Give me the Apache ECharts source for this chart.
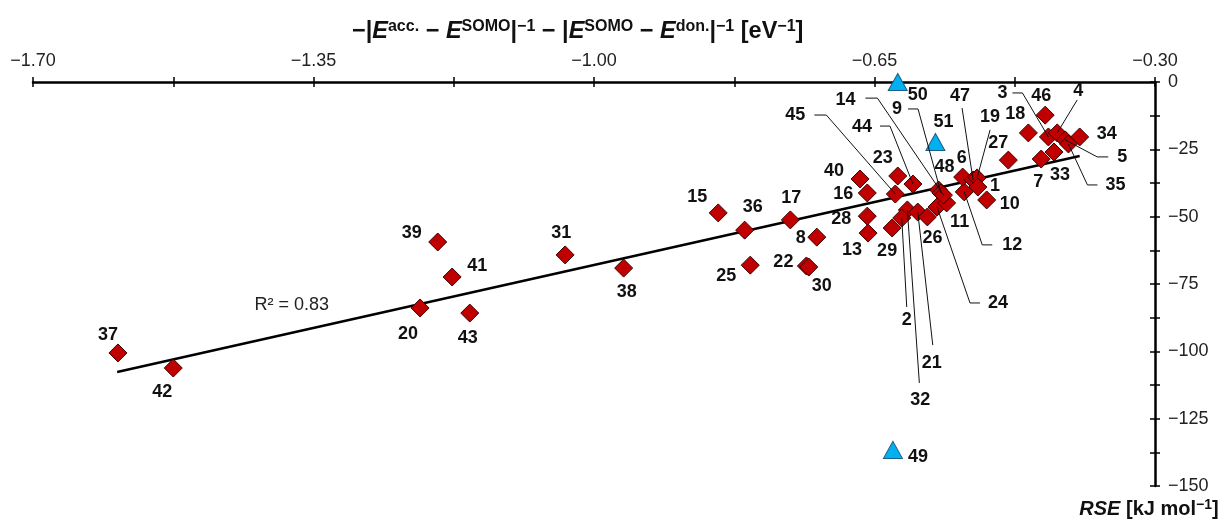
<!DOCTYPE html>
<html><head><meta charset="utf-8">
<script src="https://cdn.jsdelivr.net/npm/echarts@6/dist/echarts.min.js"></script>
<style>html,body{margin:0;padding:0;background:#fff}#c{width:1223px;height:519px}</style>
</head><body><div id="c"></div>
<script>
// ---- data ----
const ids   = ['37','42','39','41','20','43','31','38','15','36','25','17','8','22','30','40','16','28','13','29','45','23','44','32','2','21','26','24','11','48','9','14','12','6','47','19','1','10','27','7','33','18','46','3','4','5','35','34'];
const xVals = [-1.594,-1.525,-1.195,-1.177,-1.217,-1.155,-1.036,-0.963,-0.845,-0.812,-0.805,-0.755,-0.722,-0.735,-0.732,-0.668,-0.659,-0.659,-0.658,-0.628,-0.624,-0.621,-0.602,-0.609,-0.616,-0.596,-0.584,-0.572,-0.560,-0.570,-0.567,-0.564,-0.538,-0.540,-0.527,-0.522,-0.521,-0.510,-0.483,-0.442,-0.426,-0.458,-0.437,-0.433,-0.422,-0.412,-0.408,-0.394];
const yVals = [-100.6,-106.2,-59.4,-72.4,-83.9,-85.8,-64.2,-69.1,-48.6,-55.0,-68.0,-51.2,-57.6,-68.3,-68.7,-36.0,-41.2,-49.8,-56.1,-54.2,-41.6,-34.9,-37.9,-47.5,-50.5,-48.3,-50.1,-46.4,-44.9,-40.1,-41.2,-42.0,-40.8,-35.3,-36.4,-35.6,-39.0,-43.8,-29.0,-28.6,-26.0,-18.9,-12.3,-20.4,-18.9,-21.5,-23.0,-20.4];
const refIds = ['50','51','49'];
const refX   = [-0.621,-0.574,-0.627];
const refY   = [0,-22.3,-136.6];
const trendX = [-1.595,-0.394];
const trendY = [-107.7,-27.5];
const r2Text = 'R² = 0.83';
const xTickLabels = [-1.70,-1.35,-1.00,-0.65,-0.30];
const xTicks = [-1.70,-1.525,-1.35,-1.175,-1.00,-0.825,-0.65,-0.475,-0.30];
const yTickLabels = [0,-25,-50,-75,-100,-125,-150];
const yTicks = [0,-12.5,-25,-37.5,-50,-62.5,-75,-87.5,-100,-112.5,-125,-137.5,-150];

// ---- label placement (pixel offsets from the mark) ----
const labelOff = {
 '37':[-10,-18],'42':[-11,24],'39':[-26,-9],'41':[25,-11],'20':[-12,26],'43':[-2,25],
 '31':[-4,-22],'38':[3,24],'15':[-21,-16],'36':[8,-23],'25':[-24,11],'17':[1,-22],
 '8':[-16,1],'22':[-23,-4],'30':[13,19],'40':[-26,-8],'16':[-24,1],'28':[-26,3],
 '13':[-16,17],'29':[-5,23],'23':[-15,-18],'26':[5,21],'11':[13,19],'6':[-1,-19],
 '1':[17,-1],'10':[23,4],'27':[-10,-17],'7':[-3,23],'33':[6,23],'18':[-13,-19],
 '46':[-4,-19],'34':[27,-3],'48':[6,-23],'49':[25,7],'50':[20,13],'51':[8,-20]
};
const leaders = {
 '45':{t:[-100,-79],l:[[-81,-79],[-69,-79]]},
 '14':{t:[-98,-95],l:[[-78,-97],[-66,-97]]},
 '44':{t:[-51,-57],l:[[-33,-58],[-23,-58]]},
 '9': {t:[-44,-84],l:[[-33,-84],[-23,-84]]},
 '47':{t:[-13,-84],l:[[-11,-72]]},
 '19':{t:[13,-61],l:[[13,-48]]},
 '12':{t:[48,53],l:[[28,53],[18,53]]},
 '24':{t:[61,96],l:[[43,96],[33,96]]},
 '2': {t:[5,102],l:[[5,89]]},
 '21':{t:[14,151],l:[[15,133]]},
 '32':{t:[13,190],l:[[12,173]]},
 '3': {t:[-46,-44],l:[[-36,-44],[-26,-44]]},
 '4': {t:[21,-42],l:[[20,-33]]},
 '5': {t:[57,17],l:[[43,17],[32,17]]},
 '35':{t:[47,41],l:[[29,41],[19,41]]}
};

const FONT = '"Liberation Sans", Arial, sans-serif';
const fmtX = v => (v < 0 ? '\u2212' : '') + Math.abs(v).toFixed(2);
const fmtY = v => (v < 0 ? '\u2212' : '') + Math.abs(v);

const chart = echarts.init(document.getElementById('c'), null, {renderer:'canvas'});
const mainPts = ids.map((id,i)=>[xVals[i], yVals[i], id]);
const refPts  = refIds.map((id,i)=>[refX[i], refY[i], id]);

const xBase = {type:'value', position:'top', min:-1.70, max:-0.30, splitLine:{show:false}};
const yBase = {type:'value', position:'right', min:-150, max:0, splitLine:{show:false}};

chart.setOption({
  animation:false,
  textStyle:{fontFamily:FONT},
  title:{
    left:352, top:19, padding:0,
    text:'{n|\u2212|}{i|E}{s|acc.}{n| \u2212 }{i|E}{s|SOMO}{n||}{s|\u22121}{n| \u2212 |}{i|E}{s|SOMO}{n| \u2212 }{i|E}{s|don.}{n||}{s|\u22121}{n| [eV}{s|\u22121}{n|]}',
    textStyle:{rich:{
      n:{fontSize:23.5,fontWeight:'bold',color:'#111',fontFamily:FONT,lineHeight:26},
      i:{fontSize:23.5,fontWeight:'bold',fontStyle:'italic',color:'#111',fontFamily:FONT,lineHeight:26},
      s:{fontSize:16,fontWeight:'bold',color:'#111',fontFamily:FONT,verticalAlign:'top',lineHeight:26}
    }}
  },
  grid:{left:33, right:68, top:82, bottom:33, containLabel:false, outerBoundsMode:'none'},
  xAxis:[
    Object.assign({}, xBase, {
      axisLine:{show:true, onZero:false, lineStyle:{color:'#000', width:2.5}},
      axisTick:{show:true, customValues:xTicks, length:5, lineStyle:{color:'#000', width:1.5}},
      axisLabel:{show:true, customValues:xTickLabels, formatter:fmtX, fontSize:18, color:'#222', margin:12, fontFamily:FONT}
    }),
    Object.assign({}, xBase, {
      axisLine:{show:false, onZero:false},
      axisTick:{show:true, inside:true, customValues:xTicks, length:5, lineStyle:{color:'#000', width:1.5}},
      axisLabel:{show:false}
    })
  ],
  yAxis:[
    Object.assign({}, yBase, {
      axisLine:{show:true, onZero:false, lineStyle:{color:'#000', width:2.5}},
      axisTick:{show:true, customValues:yTicks, length:5, lineStyle:{color:'#000', width:1.5}},
      axisLabel:{show:true, customValues:yTickLabels, formatter:fmtY, fontSize:18, color:'#222', margin:13, fontFamily:FONT},
      name:'{ib|RSE}{b| [kJ mol}{s|\u22121}{b|]}',
      nameLocation:'start', nameGap:12,
      nameTextStyle:{padding:[0,12,0,0], rich:{
        ib:{fontSize:20,fontWeight:'bold',fontStyle:'italic',color:'#111',fontFamily:FONT,lineHeight:22},
        b:{fontSize:20,fontWeight:'bold',color:'#111',fontFamily:FONT,lineHeight:22},
        s:{fontSize:14,fontWeight:'bold',color:'#111',fontFamily:FONT,verticalAlign:'top',lineHeight:22}
      }}
    }),
    Object.assign({}, yBase, {
      axisLine:{show:false, onZero:false},
      axisTick:{show:true, inside:true, customValues:yTicks, length:5, lineStyle:{color:'#000', width:1.5}},
      axisLabel:{show:false}
    })
  ],
  series:[
    {type:'line', xAxisIndex:0, yAxisIndex:0, data:trendX.map((x,i)=>[x,trendY[i]]),
     symbol:'none', lineStyle:{color:'#000', width:2.5}, z:1, silent:true},
    {type:'scatter', xAxisIndex:0, yAxisIndex:0, data:mainPts, symbol:'diamond', symbolSize:[18,18],
     itemStyle:{color:'#C00000', borderColor:'#3a0000', borderWidth:1, opacity:1}, z:3},
    {type:'scatter', xAxisIndex:0, yAxisIndex:0, data:refPts, symbol:'triangle', symbolSize:[19,17],
     itemStyle:{color:'#00B0F0', borderColor:'#1b5f86', borderWidth:1, opacity:1}, z:3}
  ]
});

// labels and leader lines positioned from the library's own scales
const g = [];
mainPts.concat(refPts).forEach(p=>{
  const [px,py] = chart.convertToPixel({xAxisIndex:0, yAxisIndex:0}, [p[0], p[1]]);
  const id = p[2];
  const L = leaders[id];
  const off = L ? L.t : (labelOff[id] || [15,0]);
  if (L) {
    const pts = L.l.map(o=>[px+o[0], py+o[1]]).concat([[px,py]]);
    g.push({type:'polyline', shape:{points:pts}, style:{stroke:'#111', lineWidth:1, fill:null}, z:50, silent:true});
  }
  g.push({type:'text', x:px+off[0], y:py+off[1], z:60, silent:true,
    style:{text:id, font:'bold 18px ' + FONT, fill:'#111', align:'center', verticalAlign:'middle'}});
});
const r2Pos = chart.convertToPixel({xAxisIndex:0, yAxisIndex:0}, [-1.377, -82.8]);
g.push({type:'text', x:r2Pos[0], y:r2Pos[1], z:60, silent:true,
  style:{text:r2Text, font:'18px ' + FONT, fill:'#222', align:'center', verticalAlign:'middle'}});
chart.setOption({graphic:g});
</script>
</body></html>
